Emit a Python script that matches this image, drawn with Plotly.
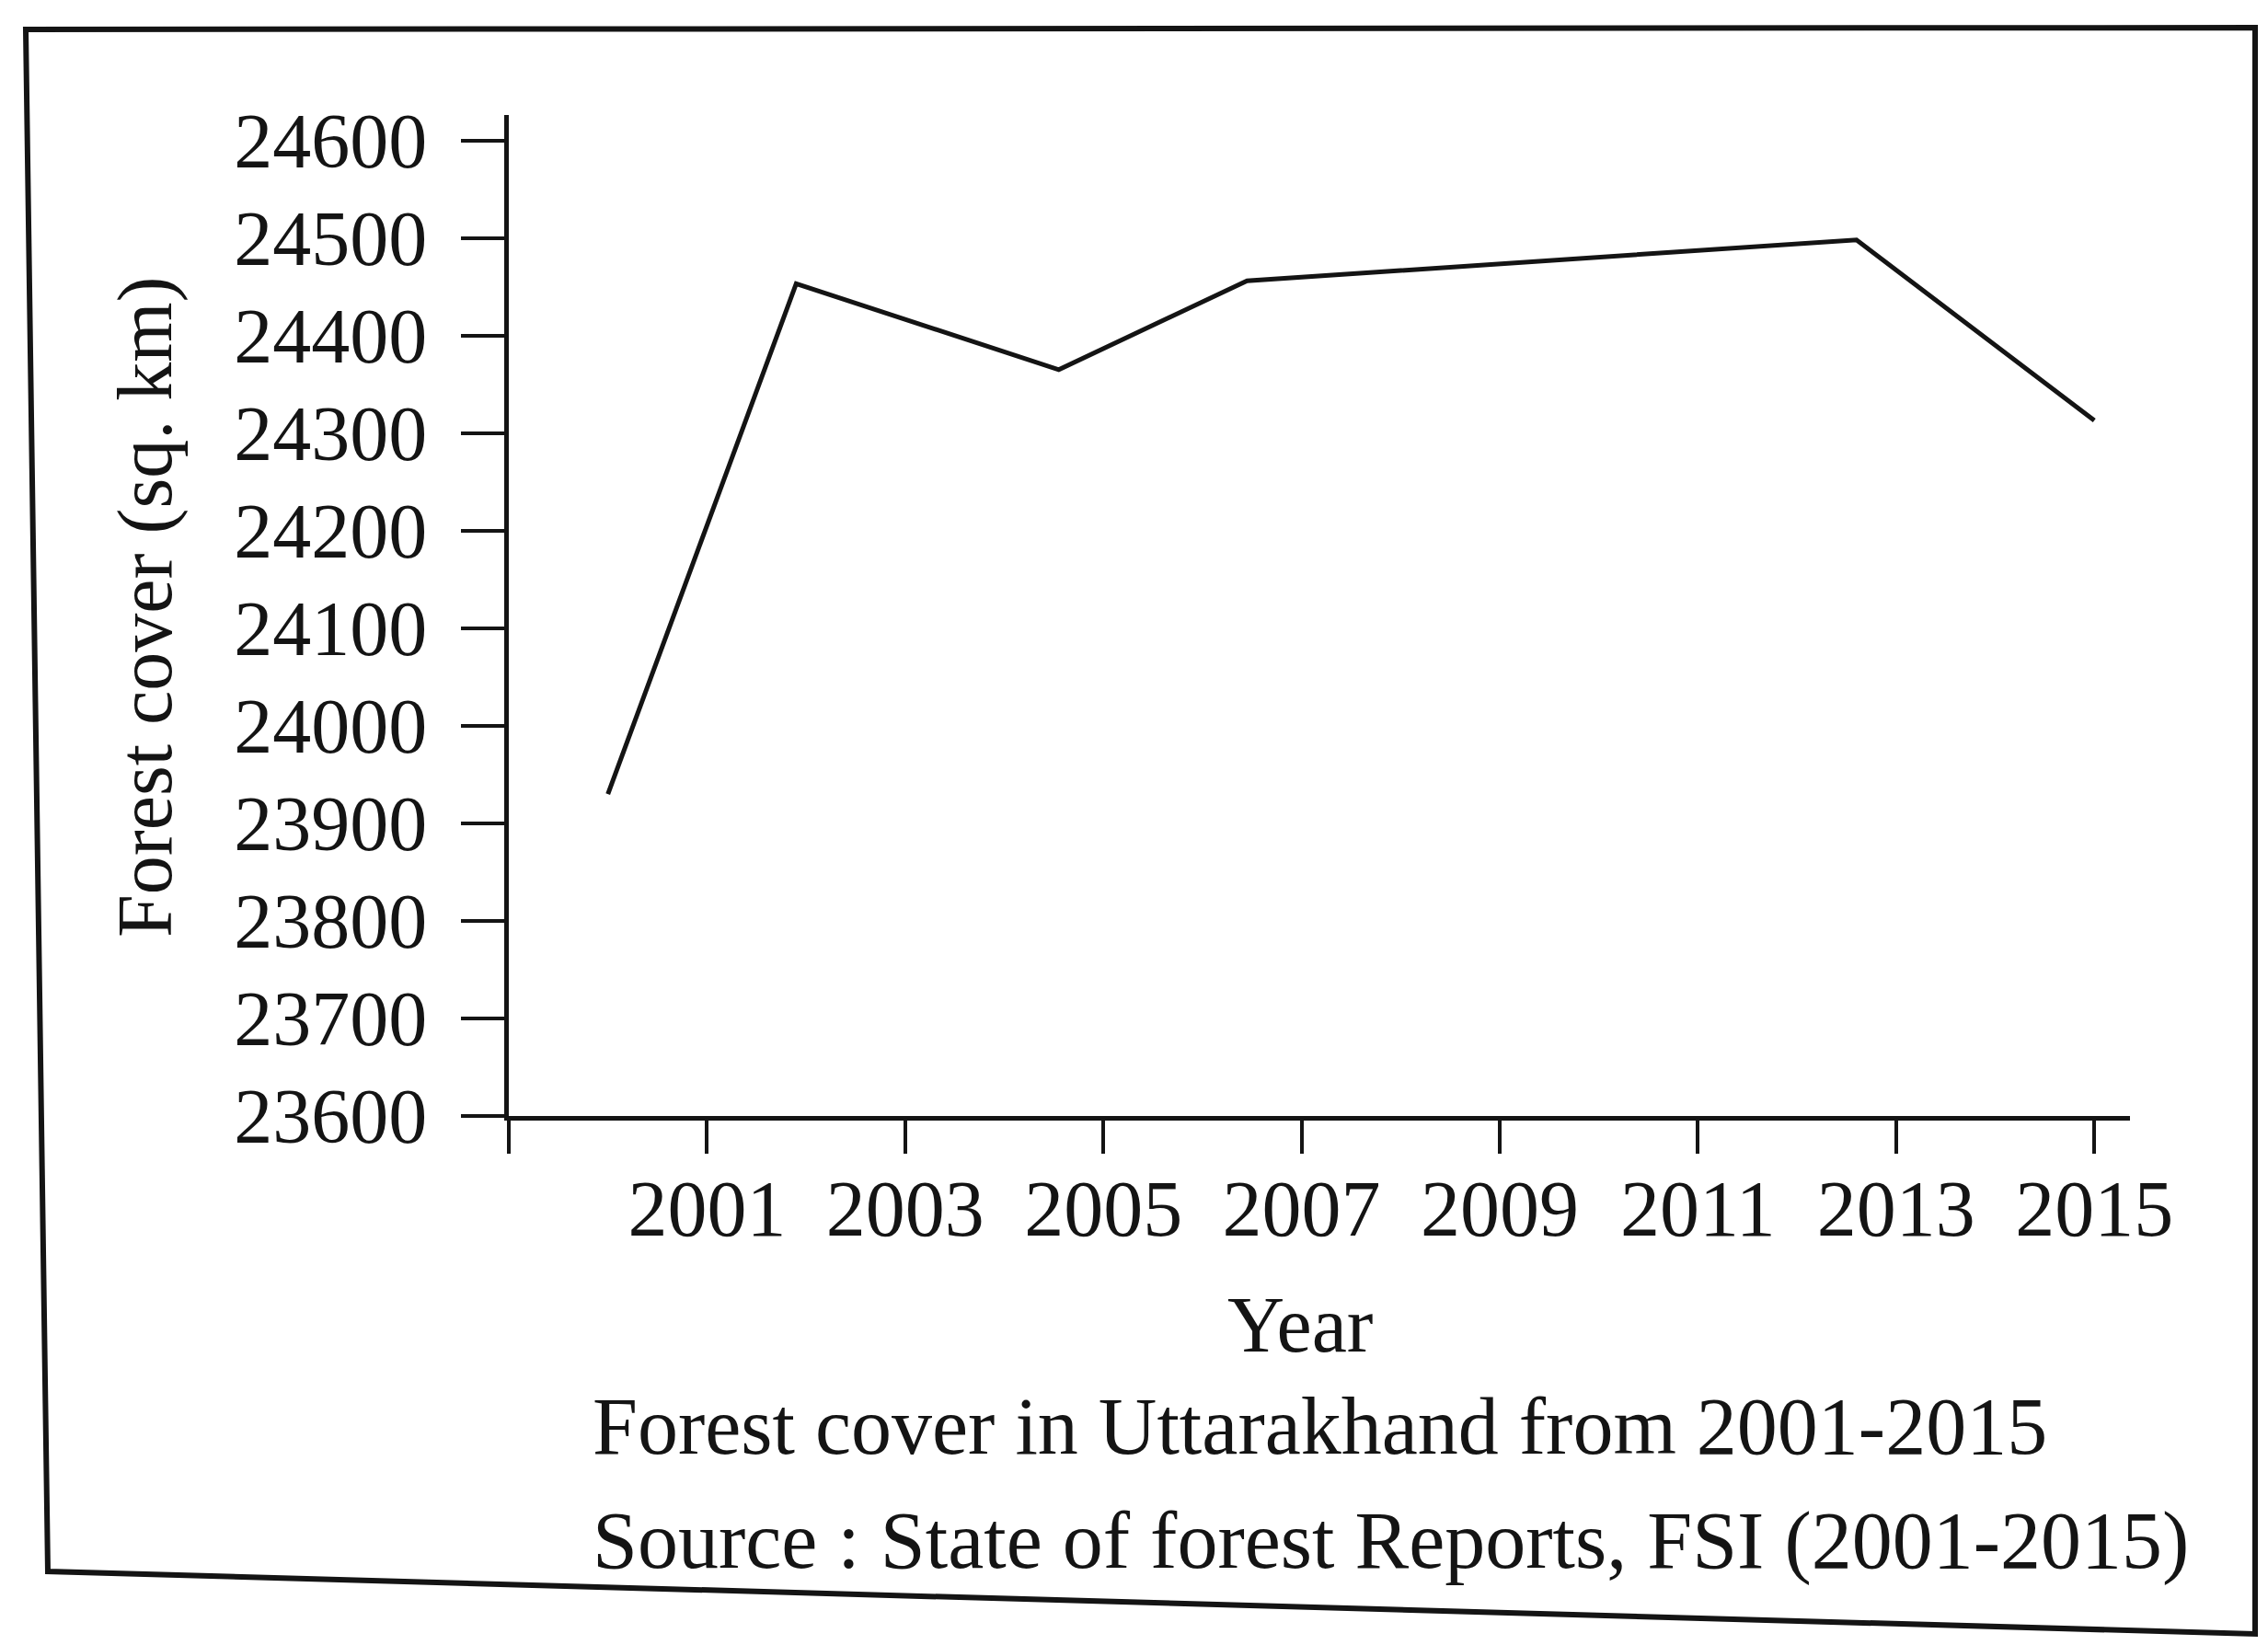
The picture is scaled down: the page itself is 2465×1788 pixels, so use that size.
import plotly.graph_objects as go

# ---- data ----
years = [2000.0, 2001.9, 2004.55, 2006.45, 2012.6, 2015.0]
forest_cover = [23930, 24453, 24365, 24456, 24498, 24313]

x_tick_vals = [1999, 2001, 2003, 2005, 2007, 2009, 2011, 2013, 2015]
x_tick_text = ["", "2001", "2003", "2005", "2007", "2009", "2011", "2013", "2015"]
y_tick_vals = [23600, 23700, 23800, 23900, 24000, 24100, 24200, 24300, 24400, 24500, 24600]
y_tick_text = [str(v) for v in y_tick_vals]

x_title = "Year"
y_title = "Forest cover (sq. km)"
caption_1 = "Forest cover in Uttarakhand from 2001-2015"
caption_2 = "Source : State of forest Reports, FSI (2001-2015)"

# ---- layout geometry (pixels) ----
W, H = 2465, 1788
L, R, T, B = 545, 158, 117, 583
PW, PH = W - L - R, H - T - B
FONT = "Liberation Serif"
INK = "#141414"


def px(x):
    return (x - L) / PW


def py(y):
    return (H - B - y) / PH


fig = go.Figure()
fig.add_trace(go.Scatter(
    x=years, y=forest_cover, mode="lines",
    line=dict(color=INK, width=5),
    showlegend=False, hoverinfo="x+y",
))

fig.update_xaxes(
    range=[1999.0, 2015.36],
    tickmode="array", tickvals=x_tick_vals, ticktext=x_tick_text,
    ticks="outside", ticklen=36, tickwidth=4, tickcolor=INK,
    showline=True, linewidth=5, linecolor=INK,
    showgrid=False, zeroline=False,
    tickfont=dict(family=FONT, size=86, color=INK),
    ticklabelstandoff=-14,
)
fig.update_yaxes(
    range=[23600, 24626],
    tickmode="array", tickvals=y_tick_vals, ticktext=y_tick_text,
    ticks="outside", ticklen=47, tickwidth=4, tickcolor=INK,
    showline=True, linewidth=5, linecolor=INK,
    showgrid=False, zeroline=False,
    tickfont=dict(family=FONT, size=84, color=INK),
    ticklabelstandoff=20,
)

annotations = [
    dict(text=x_title, x=px(1405), y=py(1432), xanchor="center", yanchor="middle",
         font=dict(family=FONT, size=86, color=INK)),
    dict(text=y_title, x=px(150), y=py(652), xanchor="center", yanchor="middle",
         textangle=-90, font=dict(family=FONT, size=84, color=INK)),
    dict(text=caption_1, x=px(634), y=py(1542), xanchor="left", yanchor="middle",
         font=dict(family=FONT, size=88, color=INK)),
    dict(text=caption_2, x=px(634), y=py(1666), xanchor="left", yanchor="middle",
         font=dict(family=FONT, size=88, color=INK)),
]
for a in annotations:
    a.update(xref="paper", yref="paper", showarrow=False)

frame_pts = [(20, 24), (2443, 22), (2443, 1768), (44, 1700)]
path = "M " + " L ".join(f"{px(x):.5f},{py(y):.5f}" for x, y in frame_pts) + " Z"

fig.update_layout(
    width=W, height=H,
    margin=dict(l=L, r=R, t=T, b=B),
    paper_bgcolor="white", plot_bgcolor="white",
    annotations=annotations,
    shapes=[dict(type="path", path=path, xref="paper", yref="paper",
                 line=dict(color=INK, width=6), fillcolor="rgba(0,0,0,0)")],
)

fig.write_html("out.html")
